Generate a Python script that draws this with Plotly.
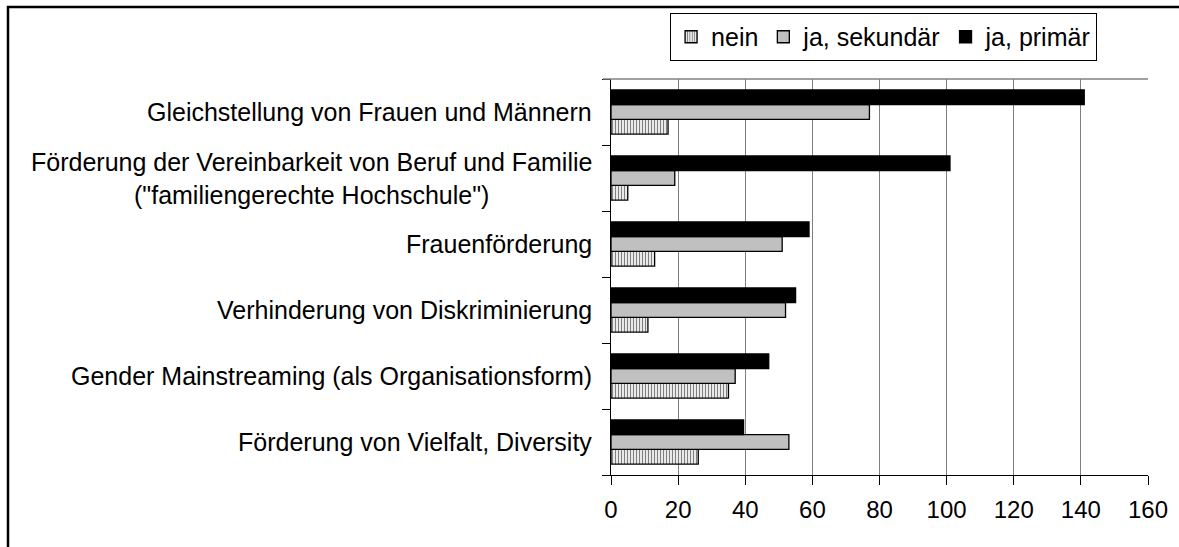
import plotly.graph_objects as go

# categories listed bottom to top, as they appear on the chart
categories = [
    "Förderung von Vielfalt, Diversity",
    "Gender Mainstreaming (als Organisationsform)",
    "Verhinderung von Diskriminierung",
    "Frauenförderung",
    "Förderung der Vereinbarkeit von Beruf und Familie<br>(\"familiengerechte Hochschule\")",
    "Gleichstellung von Frauen und Männern",
]
nein = [26, 35, 11, 13, 5, 17]
ja_sekundaer = [53, 37, 52, 51, 19, 77]
ja_primaer = [39.5, 47, 55, 59, 101, 141]

x_ticks = [0, 20, 40, 60, 80, 100, 120, 140, 160]

FONT = "Liberation Sans, Arial, sans-serif"

fig = go.Figure()

fig.add_trace(go.Bar(
    y=categories, x=nein, orientation='h', name='nein',
    marker=dict(
        color='white',
        line=dict(color='black', width=1.3),
        pattern=dict(shape='|', fgcolor='black', bgcolor='white', size=3, solidity=0.45),
    ),
))
fig.add_trace(go.Bar(
    y=categories, x=ja_sekundaer, orientation='h', name='ja, sekundär',
    marker=dict(color='#c0c0c0', line=dict(color='black', width=1.3)),
))
fig.add_trace(go.Bar(
    y=categories, x=ja_primaer, orientation='h', name='ja, primär',
    marker=dict(color='black', line=dict(color='black', width=1.3)),
))

# category labels as annotations so wrapped lines stay centred
for cat in categories:
    fig.add_annotation(
        x=0, xref='paper', y=cat, yref='y',
        text=cat, showarrow=False,
        xanchor='right', yanchor='middle', align='center',
        xshift=-17, font=dict(family=FONT, size=25, color='black'),
    )

# outer chart frame (cut off at right and bottom) and top border line
fig.add_shape(type='rect', xref='paper', yref='paper',
              x0=-1.1229, x1=1.3, y0=-0.4, y1=1.1818,
              line=dict(color='black', width=2.5), fillcolor='rgba(0,0,0,0)')
fig.add_shape(type='line', xref='paper', yref='paper',
              x0=-0.015, x1=1, y0=1, y1=1,
              line=dict(color='#808080', width=1.3))

fig.update_layout(
    width=1179, height=547,
    margin=dict(l=611, r=31, t=79, b=72),
    paper_bgcolor='white', plot_bgcolor='white',
    barmode='group', bargap=0.33, bargroupgap=0,
    font=dict(family=FONT, size=24, color='black'),
    showlegend=True,
    legend=dict(
        orientation='h', x=0.11, y=1.1667, xanchor='left', yanchor='top',
        bordercolor='black', borderwidth=1, bgcolor='white',
        font=dict(family=FONT, size=25, color='black'),
        traceorder='normal', itemwidth=30, tracegroupgap=0,
    ),
)

fig.update_xaxes(
    range=[0, 160], tickvals=x_ticks, ticktext=[str(v) for v in x_ticks],
    showgrid=True, gridcolor='#808080', gridwidth=1.3,
    showline=True, linecolor='black', linewidth=1.3,
    ticks='outside', ticklen=9, tickcolor='black', tickwidth=1.3,
    ticklabelstandoff=4, zeroline=False,
    tickfont=dict(family=FONT, size=24, color='black'),
)
fig.update_yaxes(
    categoryorder='array', categoryarray=categories,
    showticklabels=False, showgrid=False,
    showline=True, linecolor='black', linewidth=1.3,
    ticks='outside', ticklen=8, tickcolor='black', tickwidth=1.3,
    tickson='boundaries', zeroline=False,
)

# drop the default page margin so the figure sits at the window origin
fig.write_html(
    "out.html",
    config={'displayModeBar': False},
    post_script="document.body.style.margin='0';document.body.style.overflow='hidden';",
)
